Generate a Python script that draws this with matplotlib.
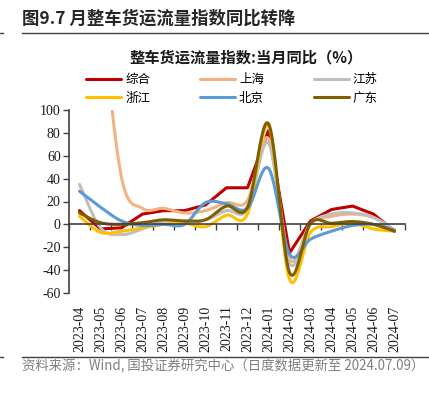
import numpy as np
import matplotlib
matplotlib.use("Agg")
import matplotlib.pyplot as plt
from matplotlib.lines import Line2D

plt.rcParams['font.family'] = ['Noto Sans CJK SC', 'DejaVu Sans']

months = ['2023-04', '2023-05', '2023-06', '2023-07', '2023-08', '2023-09', '2023-10', '2023-11',
          '2023-12', '2024-01', '2024-02', '2024-03', '2024-04', '2024-05', '2024-06', '2024-07']
zonghe = [12, -4, -3, 9, 12, 12, 17, 32, 32, 82, -25, 3, 13, 16, 9, -6]
shanghai = [330, 190, 41, 14, 14, 10, 12, 19, 21, 75, -30, 1, 7, 9, 6, -5]
jiangsu = [35, -3, -9, -4, 3, 2, 4, 12, 13, 71, -34, 0, 9, 10, 6, -5]
zhejiang = [7, -7, -6, -3, 0, 1, -2, 8, 9, 86, -48, -7, -2, 1, -4, -6]
beijing = [29, 15, 3, -1, 0, 0, 19, 18, 14, 49, -26, -13, -6, -1, 0, -5]
guangdong = [10, 1.5, 0, 1.5, 4, 3, 4, 16, 15, 88, -42, 1, 1, 2.5, 0, -6]

series = [
    ('综合', zonghe, '#C00000', False),
    ('上海', shanghai, '#F4B183', True),
    ('江苏', jiangsu, '#BFBFBF', True),
    ('浙江', zhejiang, '#FFC000', True),
    ('北京', beijing, '#5B9BD5', True),
    ('广东', guangdong, '#7F6000', True),
]


def smooth(y, n=24):
    x = np.arange(len(y), dtype=float)
    y = np.asarray(y, dtype=float)
    xs, ys = [], []
    for i in range(len(y) - 1):
        i0 = max(i - 1, 0)
        i3 = min(i + 2, len(y) - 1)
        p0, p1, p2, p3 = y[i0], y[i], y[i + 1], y[i3]
        q0, q1, q2, q3 = x[i0], x[i], x[i + 1], x[i3]
        c1y = p1 + (p2 - p0) / 6
        c2y = p2 - (p3 - p1) / 6
        c1x = q1 + (q2 - q0) / 6
        c2x = q2 - (q3 - q1) / 6
        t = np.linspace(0, 1, n, endpoint=(i == len(y) - 2))
        b0 = (1 - t) ** 3
        b1 = 3 * (1 - t) ** 2 * t
        b2 = 3 * (1 - t) * t ** 2
        b3 = t ** 3
        xs.append(b0 * q1 + b1 * c1x + b2 * c2x + b3 * q2)
        ys.append(b0 * p1 + b1 * c1y + b2 * c2y + b3 * p2)
    return np.concatenate(xs), np.concatenate(ys)


fig = plt.figure(figsize=(4.29, 3.93), dpi=100)
ax = fig.add_axes([69 / 429, 1 - 293 / 393, 336 / 429, 183 / 393])

x = np.arange(len(months))
for name, vals, color, sm in series:
    if sm:
        xs, ys = smooth(vals)
    else:
        xs, ys = x, np.asarray(vals, dtype=float)
    ax.plot(xs, ys, color=color, lw=2.2, solid_capstyle='round', label=name)

ax.set_xlim(-0.5, len(months) - 0.5)
ax.set_ylim(-60, 100)
yt = list(range(-60, 101, 20))
ax.set_yticks(yt)
ax.set_yticklabels([str(v) for v in yt], fontfamily='Liberation Serif', fontsize=10, color='#1a1a1a')
ax.tick_params(axis='y', direction='out', length=4, width=1, color='#404040', pad=2)

for s in ['top', 'right']:
    ax.spines[s].set_visible(False)
ax.spines['left'].set_color('#404040')
ax.spines['left'].set_linewidth(1.2)
ax.spines['bottom'].set_position(('data', 0))
ax.spines['bottom'].set_color('#404040')
ax.spines['bottom'].set_linewidth(1.2)
ax.set_xticks(np.arange(-0.5, len(months), 1.0))
ax.tick_params(axis='x', direction='out', length=4, width=1, color='#404040', labelbottom=False)

sec = ax.secondary_xaxis('bottom')
sec.spines['bottom'].set_visible(False)
sec.set_xticks(x)
sec.set_xticklabels(months, rotation=90, fontfamily='Liberation Serif', fontsize=10, color='#1a1a1a')
sec.tick_params(axis='x', length=0, pad=9)

fig.text(22 / 429, 1 - 19 / 393, '图9.7 月整车货运流量指数同比转降', fontsize=12.5, fontweight='bold',
         color='#262626', ha='left', va='center')
fig.add_artist(Line2D([22 / 429, 1], [1 - 33 / 393] * 2, color='#404040', lw=1.0))
fig.add_artist(Line2D([0, 3 / 429], [1 - 33 / 393] * 2, color='#404040', lw=1.0))

fig.text(246 / 429, 1 - 57 / 393, '整车货运流量指数:当月同比（%）', fontsize=11, fontweight='bold',
         color='#1a1a1a', ha='center', va='center')

handles, labels = ax.get_legend_handles_labels()
order = [0, 3, 1, 4, 2, 5]
fig.legend([handles[i] for i in order], [labels[i] for i in order], loc='center',
           bbox_to_anchor=(232 / 429, 1 - 89 / 393), ncol=3,
           frameon=False, fontsize=9, handlelength=2.8, handletextpad=0.3, columnspacing=4.0,
           labelspacing=0.45, borderpad=0)

fig.add_artist(Line2D([22 / 429, 1], [1 - 357 / 393] * 2, color='#404040', lw=1.0))
fig.add_artist(Line2D([0, 3 / 429], [1 - 357 / 393] * 2, color='#404040', lw=1.0))
fig.text(22 / 429, 1 - 366 / 393, '资料来源：Wind, 国投证券研究中心（日度数据更新至 2024.07.09）', fontsize=9.6,
         color='#7f7f7f', ha='left', va='center')

fig.savefig('out.png', dpi=100)
